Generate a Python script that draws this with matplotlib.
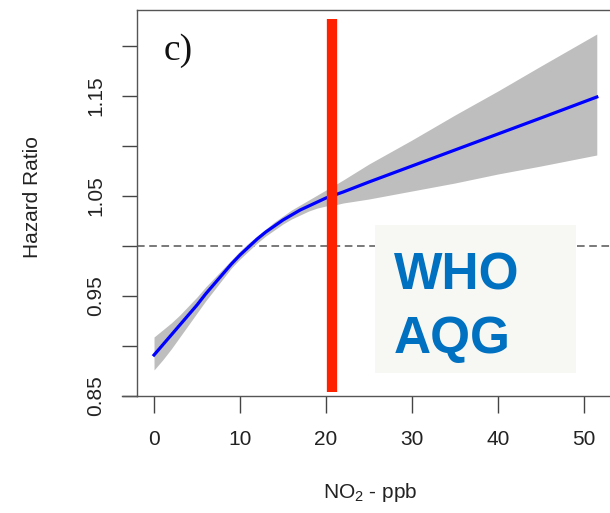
import matplotlib
matplotlib.use("Agg")
import matplotlib.pyplot as plt
from matplotlib.patches import Rectangle
from matplotlib.lines import Line2D

plt.rcParams['font.family'] = ['Liberation Sans', 'DejaVu Sans']
plt.rcParams['mathtext.fontset'] = 'custom'
plt.rcParams['mathtext.rm'] = 'Liberation Sans'
plt.rcParams['mathtext.default'] = 'regular'

# spline fit
no2 = [0, 1, 2, 3, 4, 5, 6, 7, 8, 9, 10, 11, 12, 13, 14, 15, 16, 17, 18, 19,
       20, 21, 22, 25, 30, 35, 40, 45, 51.5]
hr = [0.891, 0.901, 0.911, 0.921, 0.931, 0.941, 0.952, 0.962, 0.972, 0.982,
      0.991, 0.999, 1.007, 1.014, 1.020, 1.026, 1.031, 1.036, 1.040, 1.044,
      1.048, 1.051, 1.054, 1.064, 1.080, 1.096, 1.112, 1.128, 1.149]
hr_upper = [0.909, 0.916, 0.923, 0.931, 0.940, 0.949, 0.959, 0.968, 0.977, 0.986,
            0.995, 1.003, 1.010, 1.017, 1.024, 1.030, 1.036, 1.041, 1.046, 1.051,
            1.056, 1.061, 1.066, 1.082, 1.106, 1.131, 1.155, 1.180, 1.212]
hr_lower = [0.876, 0.886, 0.897, 0.909, 0.921, 0.933, 0.945, 0.956, 0.967, 0.978,
            0.987, 0.995, 1.003, 1.010, 1.016, 1.022, 1.027, 1.031, 1.035, 1.038,
            1.040, 1.041, 1.043, 1.047, 1.055, 1.063, 1.072, 1.080, 1.091]

who_aqg = 20.7          # ppb
red_span = (0.854, 1.227)
reference_hr = 1.0

x_ticks = [0, 10, 20, 30, 40, 50]
y_ticks = [0.85, 0.90, 0.95, 1.00, 1.05, 1.10, 1.15, 1.20]
y_labels = ['0.85', '', '0.95', '', '1.05', '', '1.15', '']

W, H = 610, 513
fig = plt.figure(figsize=(W / 100, H / 100), dpi=100)
ax = fig.add_axes([137 / W, (H - 396) / H, (620 - 137) / W, (396 - 10) / H])

ax.fill_between(no2, hr_lower, hr_upper, color='#bebebe', lw=0, zorder=1)
ax.plot(no2, hr, color='#0000ff', lw=2.3, zorder=2)
ax.axhline(reference_hr, color='#555555', lw=1.1, ls=(0, (5, 3)), zorder=0.5)
ax.plot([who_aqg, who_aqg], red_span, color='#ff2200', lw=7.4,
        solid_capstyle='butt', zorder=3)

ax.set_xlim(-1.98, 54.2)
ax.set_ylim(0.85, 1.236)

ax.set_xticks(x_ticks)
ax.set_yticks(y_ticks)
ax.set_yticklabels(y_labels, rotation=90, va='center')
ax.tick_params(axis='x', length=12.2, width=1, color='#444444', pad=12,
               labelsize=15, labelcolor='#222222')
ax.tick_params(axis='y', length=10.8, width=1, color='#444444', pad=12,
               labelsize=15, labelcolor='#222222')

for s in ['left', 'top', 'bottom']:
    ax.spines[s].set_color('#555555')
    ax.spines[s].set_linewidth(1)
ax.spines['right'].set_visible(False)

# bottom axis line runs a little past the box on the left
fig.add_artist(Line2D([122 / W, 137 / W], [(H - 396) / H] * 2,
                      color='#555555', lw=1))

fig.text(33 / W, 1 - 197 / H, 'Hazard Ratio', rotation=90, ha='center',
         va='center', fontsize=15, color='#222222')
fig.text(370 / W, 1 - 493 / H, 'NO$_2$ - ppb', ha='center', va='center',
         fontsize=15, color='#222222')
fig.text(164 / W, 1 - 51 / H, 'c)', ha='left', va='center', fontsize=27,
         family='Liberation Serif', color='#111111')

# WHO AQG box
fig.add_artist(Rectangle((375 / W, 1 - 373 / H), (576 - 375) / W, (373 - 225) / H,
                         transform=fig.transFigure, facecolor='#f7f8f4',
                         edgecolor='none', zorder=5))
fig.text(394 / W, 1 - 289 / H, 'WHO', ha='left', va='baseline', fontsize=37,
         fontweight='bold', color='#0070c0', zorder=6)
fig.text(394 / W, 1 - 353 / H, 'AQG', ha='left', va='baseline', fontsize=37,
         fontweight='bold', color='#0070c0', zorder=6)

fig.savefig('out.png', dpi=100)
